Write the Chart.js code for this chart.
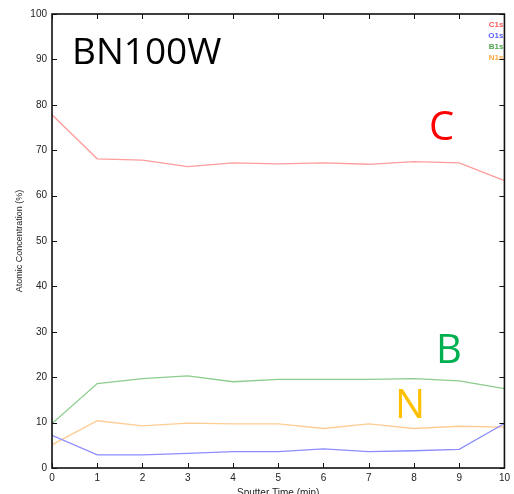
<!DOCTYPE html>
<html>
<head>
<meta charset="utf-8">
<script src="https://cdn.jsdelivr.net/npm/chart.js@4.4.0/dist/chart.umd.min.js"></script>
<style>
  html, body { margin: 0; padding: 0; background: #fff; }
  canvas { display: block; }
</style>
</head>
<body>
<canvas id="chart" width="514" height="494"></canvas>
<script>
// sputter time (min)
const times = [0, 1, 2, 3, 4, 5, 6, 7, 8, 9, 10];
// atomic concentration (%) per element
const c1s = [77.8, 68.1, 67.8, 66.4, 67.2, 67.0, 67.2, 66.9, 67.5, 67.2, 63.3];
const o1s = [7.2, 2.9, 2.9, 3.2, 3.6, 3.6, 4.2, 3.6, 3.8, 4.1, 9.8];
const b1s = [9.8, 18.6, 19.7, 20.3, 19.0, 19.5, 19.5, 19.5, 19.7, 19.2, 17.5];
const n1s = [5.1, 10.4, 9.3, 9.9, 9.7, 9.7, 8.7, 9.7, 8.7, 9.2, 9.0];
const seriesNames = ['C1s', 'O1s', 'B1s', 'N1s'];
const xTicks = [0, 1, 2, 3, 4, 5, 6, 7, 8, 9, 10];
const yTicks = [0, 10, 20, 30, 40, 50, 60, 70, 80, 90, 100];

const lineColors = ['#ff9c9c', '#8c8cff', '#8ccc8c', '#ffcc94'];
const legendColors = ['#ff5a5a', '#5a5aff', '#4fa64f', '#ffaa40'];

function toPoints(vals) {
  return vals.map((v, i) => ({ x: times[i], y: v }));
}

// box border + inward ticks, matlab style
const boxPlugin = {
  id: 'box',
  afterDraw(chart) {
    const { ctx, chartArea: a, scales } = chart;
    ctx.save();
    ctx.strokeStyle = '#111';
    ctx.lineWidth = 1;
    const len = 5;
    ctx.beginPath();
    xTicks.forEach(t => {
      const px = Math.round(scales.x.getPixelForValue(t)) + 0.5;
      ctx.moveTo(px, a.bottom); ctx.lineTo(px, a.bottom - len);
      ctx.moveTo(px, a.top); ctx.lineTo(px, a.top + len);
    });
    yTicks.forEach(t => {
      const py = Math.round(scales.y.getPixelForValue(t)) + 0.5;
      ctx.moveTo(a.left, py); ctx.lineTo(a.left + len, py);
      ctx.moveTo(a.right, py); ctx.lineTo(a.right - len, py);
    });
    ctx.stroke();
    ctx.lineWidth = 1.6;
    ctx.strokeRect(a.left, a.top, a.right - a.left, a.bottom - a.top);
    ctx.restore();
  }
};

// small text legend in the top right corner
const textLegend = {
  id: 'textLegend',
  afterDatasetsDraw(chart) {
    const { ctx, chartArea: a } = chart;
    ctx.save();
    ctx.font = 'bold 8px "Liberation Sans", Arial, sans-serif';
    ctx.textAlign = 'right';
    ctx.textBaseline = 'middle';
    chart.data.datasets.forEach((ds, i) => {
      ctx.fillStyle = legendColors[i];
      ctx.fillText(ds.label, a.right - 1, a.top + 11 + i * 10.8);
    });
    ctx.restore();
  }
};

// sample name and element labels
const labelsPlugin = {
  id: 'bigLabels',
  afterDatasetsDraw(chart) {
    const { ctx } = chart;
    ctx.save();
    ctx.textBaseline = 'alphabetic';
    ctx.textAlign = 'left';
    ctx.font = '37px "Open Sans", sans-serif';
    ctx.fillStyle = '#000';
    ctx.fillText('BN100W', 72, 64);
    ctx.font = '40px "Open Sans", sans-serif';
    ctx.fillStyle = '#ff0000';
    ctx.fillText('C', 429, 140);
    ctx.fillStyle = '#00b050';
    ctx.fillText('B', 436, 363);
    ctx.fillStyle = '#ffc000';
    ctx.fillText('N', 395, 418);
    ctx.restore();
  }
};

const series = [c1s, o1s, b1s, n1s];

new Chart(document.getElementById('chart').getContext('2d'), {
  type: 'line',
  data: {
    datasets: series.map((vals, i) => ({
      label: seriesNames[i],
      data: toPoints(vals),
      borderColor: lineColors[i],
      borderWidth: 1.3,
      pointRadius: 0,
      tension: 0,
      fill: false,
    })),
  },
  options: {
    responsive: false,
    animation: false,
    layout: { padding: { top: 14, right: 7, left: 0, bottom: 0 } },
    plugins: {
      legend: { display: false },
      tooltip: { enabled: false },
    },
    scales: {
      x: {
        type: 'linear',
        min: 0,
        max: 10,
        afterFit: (s) => { s.height = 26; },
        afterBuildTicks: (s) => { s.ticks = xTicks.map(v => ({ value: v })); },
        grid: { display: false, drawTicks: false },
        border: { display: false },
        ticks: {
          padding: 4,
          maxRotation: 0,
          color: '#222',
          font: { family: '"Liberation Sans", Arial, sans-serif', size: 10 },
        },
        title: {
          display: true,
          text: 'Sputter Time (min)',
          color: '#222',
          padding: 0,
          font: { family: '"Liberation Sans", Arial, sans-serif', size: 10, lineHeight: 0.2 },
        },
      },
      y: {
        min: 0,
        max: 100,
        afterFit: (s) => { s.width = 52; },
        afterBuildTicks: (s) => { s.ticks = yTicks.map(v => ({ value: v })); },
        grid: { display: false, drawTicks: false },
        border: { display: false },
        ticks: {
          padding: 5,
          color: '#222',
          font: { family: '"Liberation Sans", Arial, sans-serif', size: 10 },
        },
        title: {
          display: true,
          text: 'Atomic Concentration (%)',
          color: '#222',
          padding: { top: 14, bottom: 0 },
          font: { family: '"Liberation Sans", Arial, sans-serif', size: 9 },
        },
      },
    },
  },
  plugins: [boxPlugin, textLegend, labelsPlugin],
});
</script>
</body>
</html>
